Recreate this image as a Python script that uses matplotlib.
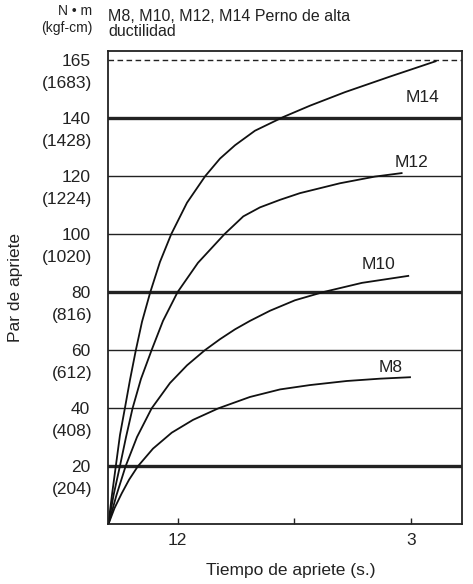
import numpy as np
import matplotlib.pyplot as plt

plt.rcParams['font.family'] = ['Liberation Sans', 'DejaVu Sans']

# torque levels on the y axis (N*m) and the kgf-cm values printed under them
torque_nm = [20, 40, 60, 80, 100, 120, 140, 165]
torque_kgf = ['(204)', '(408)', '(612)', '(816)', '(1020)', '(1224)', '(1428)', '(1683)']
thick_levels = [20, 80, 140]
thin_levels = [40, 60, 100, 120]
limit_level = 165

# x axis ticks (tightening time)
time_ticks = [0.595, 1.595, 2.595]
time_labels = ['12', '', '3']

# curves: time -> torque (N*m)
m14_t = [0, 0.032, 0.064, 0.100, 0.142, 0.186, 0.236, 0.289, 0.360, 0.443, 0.540,
         0.675, 0.832, 0.958, 1.087, 1.258, 1.501, 1.731, 2.030, 2.416, 2.808]
m14_nm = [0, 10.4, 20, 30.8, 40, 49.8, 60, 69.8, 80, 90.4, 100,
          110.8, 120, 126.0, 130.6, 135.6, 140.4, 145.3, 151.1, 157.8, 164.4]

m12_t = [0, 0.045, 0.099, 0.152, 0.208, 0.280, 0.371, 0.469, 0.594, 0.769, 0.997,
         1.158, 1.301, 1.473, 1.644, 1.987, 2.287, 2.516]
m12_nm = [0, 10.1, 20, 30.1, 40, 50.1, 60, 70.1, 80, 90.1, 100,
          106.1, 109.2, 111.8, 114.1, 117.5, 119.8, 121.0]

m10_t = [0, 0.070, 0.148, 0.246, 0.372, 0.529, 0.675, 0.828, 0.958, 1.087, 1.215,
         1.387, 1.601, 1.841, 2.176, 2.573]
m10_nm = [0, 10.1, 20, 30.1, 40, 48.7, 54.8, 60, 63.8, 67.2, 70.1,
          73.6, 77.2, 80, 83.2, 85.6]

m8_t = [0, 0.053, 0.115, 0.178, 0.253, 0.383, 0.544, 0.726, 0.945, 1.215,
        1.473, 1.730, 2.045, 2.330, 2.588]
m8_nm = [0, 5.6, 10.7, 15.4, 20, 26.1, 31.6, 36.0, 40, 43.9,
         46.5, 48.0, 49.4, 50.2, 50.7]

curve_names = ['M14', 'M12', 'M10', 'M8']
label_t = [2.699, 2.605, 2.321, 2.425]
label_nm = [148.6, 124.5, 89.4, 54.2]

# the printed scale puts every level at the same spacing, so map value -> slot
levels = np.array([0] + torque_nm + [190], dtype=float)
slots = np.arange(len(levels), dtype=float)


def fwd(v):
    return np.interp(v, levels, slots)


def inv(p):
    return np.interp(p, slots, levels)


fig = plt.figure(figsize=(4.73, 5.84), dpi=100)
ax = fig.add_axes([0.229, 0.102, 0.747, 0.811])
ax.set_yscale('function', functions=(fwd, inv))
ax.set_xlim(0, 3.031)
ax.set_ylim(0, 168.9)

ink = '#222222'

# horizontal reference lines
for v in thick_levels:
    ax.axhline(v, color=ink, lw=2.4, zorder=1)
for v in thin_levels:
    ax.axhline(v, color=ink, lw=1.0, zorder=1)
ax.axhline(limit_level, color=ink, lw=1.0, dashes=(4, 2.5), zorder=1)

# the curves
for t, nm in [(m14_t, m14_nm), (m12_t, m12_nm), (m10_t, m10_nm), (m8_t, m8_nm)]:
    ax.plot(t, nm, color='#111111', lw=1.3, zorder=2, solid_joinstyle='round')

for name, x, y in zip(curve_names, label_t, label_nm):
    ax.text(x, y, name, ha='center', va='center', fontsize=12.5, color=ink)

# axes styling
for s in ax.spines.values():
    s.set_linewidth(1.3)
    s.set_color(ink)

ax.set_yticks(torque_nm, labels=[str(v) for v in torque_nm])
ax.yaxis.set_minor_locator(plt.NullLocator())
ax.tick_params(axis='y', length=0, pad=13, labelsize=12.5, labelcolor=ink)
for v, k in zip(torque_nm, torque_kgf):
    ax.annotate(k, xy=(0, v), xycoords=('axes fraction', 'data'),
                xytext=(-11.5, -17), textcoords='offset points',
                ha='right', va='center', fontsize=12.5, color=ink)

ax.set_xticks(time_ticks, labels=time_labels)
ax.tick_params(axis='x', direction='in', length=4.5, width=1.0, color=ink,
               pad=6, labelsize=12.5, labelcolor=ink)

ax.set_xlabel('Tiempo de apriete (s.)', fontsize=12.5, color=ink)
ax.xaxis.set_label_coords(0.517, -0.082)
ax.set_ylabel('Par de apriete', fontsize=12.5, color=ink)
ax.yaxis.set_label_coords(-0.241, 0.501)

# header texts
fig.text(108 / 473, 1 - 21 / 584, 'M8, M10, M12, M14 Perno de alta',
         ha='left', va='baseline', fontsize=11.5, color=ink)
fig.text(108 / 473, 1 - 35.5 / 584, 'ductilidad',
         ha='left', va='baseline', fontsize=11.5, color=ink)
fig.text(92 / 473, 1 - 15 / 584, 'N \u2022 m',
         ha='right', va='baseline', fontsize=10, color=ink)
fig.text(92.5 / 473, 1 - 32 / 584, '(kgf-cm)',
         ha='right', va='baseline', fontsize=10, color=ink)

fig.savefig('out.png', dpi=100)
